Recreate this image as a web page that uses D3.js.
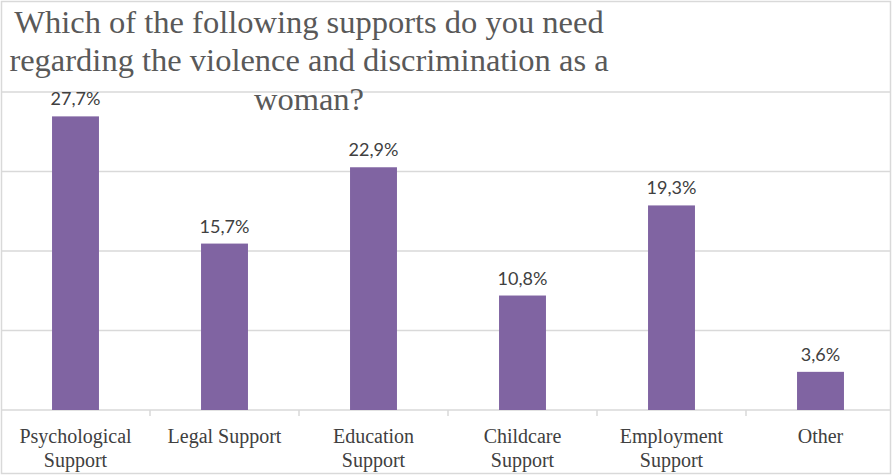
<!DOCTYPE html>
<html><head><meta charset="utf-8">
<script src="https://cdn.jsdelivr.net/npm/d3@7"></script>
<style>body{margin:0;background:#fff}svg{display:block}</style>
</head><body>
<svg id="c" width="892" height="475"></svg>
<script>
const categories = [["Psychological","Support"],["Legal Support"],["Education","Support"],["Childcare","Support"],["Employment","Support"],["Other"]];
const values = [27.7, 15.7, 22.9, 10.8, 19.3, 3.6];
const valueLabels = ["27,7%","15,7%","22,9%","10,8%","19,3%","3,6%"];
const gridTicks = [0, 7.5, 15, 22.5, 30];
const titleLines = ["Which of the following supports do you need","regarding the violence and discrimination as a","woman?"];

const svg = d3.select("#c");
const W = 892, H = 475;
const serif = "'Liberation Serif', serif";
const sans = "Lato, 'Open Sans', sans-serif";

// frame
svg.append("rect").attr("x",1.5).attr("y",1.5).attr("width",W-3).attr("height",H-3)
  .attr("fill","#fff").attr("stroke","#d9d9d9").attr("stroke-width",1.5);

const x = d3.scaleBand().domain(d3.range(categories.length)).range([1,895]).paddingInner(0.685).paddingOuter(0.3425);
const y = d3.scaleLinear().domain([0,30]).range([410,92]);

// gridlines
svg.append("g").selectAll("line").data(gridTicks).join("line")
  .attr("x1",2).attr("x2",W-2).attr("y1",d=>y(d)).attr("y2",d=>y(d))
  .attr("stroke","#d9d9d9").attr("stroke-width",1.5);

// x axis ticks
const step = x.step();
svg.append("g").selectAll("line").data(d3.range(1,categories.length)).join("line")
  .attr("x1",d=>1+d*step).attr("x2",d=>1+d*step).attr("y1",410).attr("y2",416)
  .attr("stroke","#d9d9d9").attr("stroke-width",1.5);

// bars
svg.append("g").selectAll("rect").data(values).join("rect")
  .attr("x",(d,i)=>x(i)).attr("width",x.bandwidth())
  .attr("y",d=>y(d)).attr("height",d=>y(0)-y(d))
  .attr("fill","#8064a2");

// value labels
svg.append("g").selectAll("text").data(values).join("text")
  .attr("x",(d,i)=>x(i)+x.bandwidth()/2).attr("y",d=>y(d)-11)
  .attr("text-anchor","middle").attr("font-family",sans).attr("font-size",18)
  .attr("fill","#404040").text((d,i)=>valueLabels[i]);

// category labels
const cl = svg.append("g").selectAll("text").data(categories).join("text")
  .attr("x",(d,i)=>x(i)+x.bandwidth()/2).attr("y",443)
  .attr("text-anchor","middle").attr("font-family",serif).attr("font-size",20)
  .attr("fill","#404040");
cl.selectAll("tspan").data((d,i)=>d.map(s=>({s,i}))).join("tspan")
  .attr("x",d=>x(d.i)+x.bandwidth()/2).attr("dy",(d,j)=>j?24:0).text(d=>d.s);

// title
const titleY = [33, 71, 110];
svg.append("g").selectAll("text").data(titleLines).join("text")
  .attr("x",309).attr("y",(d,i)=>titleY[i]).attr("text-anchor","middle")
  .attr("font-family",serif).attr("font-size",32.5).attr("fill","#595959")
  .text(d=>d);
</script>
</body></html>
